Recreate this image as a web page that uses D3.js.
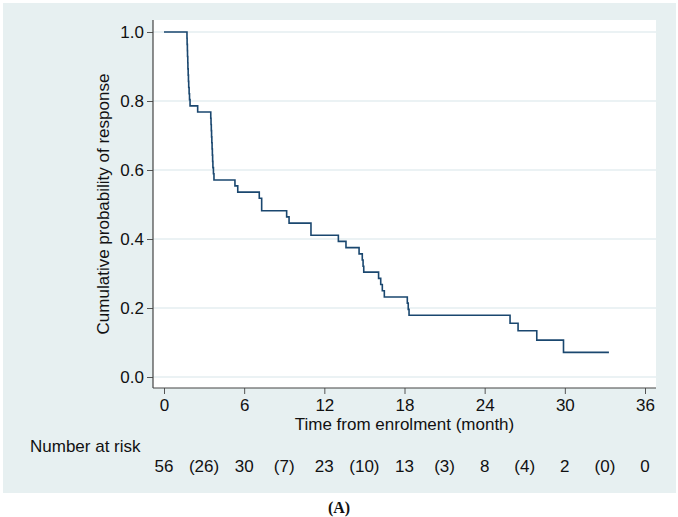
<!DOCTYPE html>
<html>
<head>
<meta charset="utf-8">
<script src="https://cdn.jsdelivr.net/npm/d3@7"></script>
<style>
    body { margin: 0; background: #ffffff; }
    text { font-family: "Liberation Sans", Arial, sans-serif; fill: #111111; }
    .tick line { stroke: #555555; }
    .caption { font-family: "Liberation Serif", "Times New Roman", serif; font-weight: bold; }
</style>
</head>
<body>
<script>
//wrap everything in a self-executing anonymous function
(function(){

    //step times (months) and survival value after each step
    var stepTimes = [0, 1.72, 1.73, 1.75, 1.76, 1.78, 1.79, 1.81, 1.83, 1.85, 1.88, 1.91, 1.95,
        2.52, 3.50, 3.52, 3.54, 3.56, 3.58, 3.60, 3.62, 3.64, 3.66, 3.70, 3.74,
        5.31, 5.52, 7.13, 7.31, 9.18, 9.36, 11.0,
        13.05, 13.62, 14.60, 14.84, 14.90, 14.95,
        16.06, 16.22, 16.34, 16.49, 18.21, 18.28, 18.34,
        25.9, 26.5, 27.9, 29.9, 33.3];
    var stepValues = [1.0, 0.982, 0.964, 0.946, 0.929, 0.911, 0.893, 0.875, 0.857, 0.839, 0.821, 0.804, 0.786,
        0.768, 0.750, 0.732, 0.714, 0.696, 0.679, 0.661, 0.643, 0.625, 0.607, 0.589, 0.571,
        0.554, 0.536, 0.518, 0.482, 0.464, 0.446, 0.411,
        0.393, 0.375, 0.357, 0.339, 0.321, 0.304,
        0.286, 0.268, 0.250, 0.232, 0.214, 0.196, 0.179,
        0.156, 0.134, 0.107, 0.0714, 0.0714];

    //axis ticks
    var xTicks = [0, 6, 12, 18, 24, 30, 36];
    var yTicks = [0, 0.2, 0.4, 0.6, 0.8, 1.0];

    //number at risk table (every 3 months)
    var riskTimes = [0, 3, 6, 9, 12, 15, 18, 21, 24, 27, 30, 33, 36];
    var riskLabels = ["56", "(26)", "30", "(7)", "23", "(10)", "13", "(3)", "8", "(4)", "2", "(0)", "0"];

    window.onload = setChart();

    function setChart(){

        var width = 678,
            height = 517,
            fontSize = "17px";

        var svg = d3.select("body")
            .append("svg")
            .attr("width", width)
            .attr("height", height);

        //graph region background
        svg.append("rect")
            .attr("x", 3)
            .attr("y", 3)
            .attr("width", 673)
            .attr("height", 490)
            .style("fill", "#e7f0f1");

        //plot region
        var plotLeft = 153, plotRight = 656, plotTop = 20, plotBottom = 388;
        svg.append("rect")
            .attr("x", plotLeft)
            .attr("y", plotTop)
            .attr("width", plotRight - plotLeft)
            .attr("height", plotBottom - plotTop)
            .style("fill", "#ffffff");

        var xScale = d3.scaleLinear()
            .domain([0, 36])
            .range([164, 645]);

        var yScale = d3.scaleLinear()
            .domain([0, 1])
            .range([377, 32]);

        //grid lines
        svg.selectAll(".grid")
            .data(yTicks)
            .enter()
            .append("line")
            .attr("class", "grid")
            .attr("x1", plotLeft)
            .attr("x2", plotRight)
            .attr("y1", function(d){ return yScale(d); })
            .attr("y2", function(d){ return yScale(d); })
            .style("stroke", "#e4eef0")
            .style("stroke-width", 1.5);

        //survival curve
        var line = d3.line()
            .x(function(d){ return xScale(d[0]); })
            .y(function(d){ return yScale(d[1]); })
            .curve(d3.curveStepAfter);

        var points = stepTimes.map(function(t, i){ return [t, stepValues[i]]; });

        svg.append("path")
            .datum(points)
            .attr("d", line)
            .style("fill", "none")
            .style("stroke", "#1a476f")
            .style("stroke-width", 1.6);

        //y axis
        var yAxis = d3.axisLeft(yScale)
            .tickValues(yTicks)
            .tickFormat(d3.format(".1f"))
            .tickSize(6)
            .tickPadding(3);

        var yg = svg.append("g")
            .attr("transform", "translate(" + plotLeft + ",0)")
            .call(yAxis);
        yg.select(".domain").remove();
        yg.selectAll("text").style("font-size", fontSize);

        svg.append("line")
            .attr("x1", plotLeft)
            .attr("x2", plotLeft)
            .attr("y1", plotTop)
            .attr("y2", plotBottom)
            .style("stroke", "#444444")
            .style("stroke-width", 1.2);

        //x axis
        var xAxis = d3.axisBottom(xScale)
            .tickValues(xTicks)
            .tickSize(6)
            .tickPadding(5);

        var xg = svg.append("g")
            .attr("transform", "translate(0," + plotBottom + ")")
            .call(xAxis);
        xg.select(".domain").remove();
        xg.selectAll("text").style("font-size", fontSize);

        svg.append("line")
            .attr("x1", plotLeft)
            .attr("x2", plotRight)
            .attr("y1", plotBottom)
            .attr("y2", plotBottom)
            .style("stroke", "#444444")
            .style("stroke-width", 1.2);

        //axis titles
        svg.append("text")
            .attr("x", xScale(18))
            .attr("y", 430)
            .attr("text-anchor", "middle")
            .style("font-size", fontSize)
            .text("Time from enrolment (month)");

        svg.append("text")
            .attr("transform", "translate(109,204) rotate(-90)")
            .attr("text-anchor", "middle")
            .style("font-size", fontSize)
            .text("Cumulative probability of response");

        //number at risk
        svg.append("text")
            .attr("x", 30)
            .attr("y", 452)
            .style("font-size", fontSize)
            .text("Number at risk");

        svg.selectAll(".risk")
            .data(riskTimes)
            .enter()
            .append("text")
            .attr("class", "risk")
            .attr("x", function(d){ return xScale(d); })
            .attr("y", 472)
            .attr("text-anchor", "middle")
            .style("font-size", fontSize)
            .text(function(d, i){ return riskLabels[i]; });

        //panel caption
        svg.append("text")
            .attr("class", "caption")
            .attr("x", 339)
            .attr("y", 513)
            .attr("text-anchor", "middle")
            .style("font-size", "16px")
            .text("(A)");
    };
})();
</script>
</body>
</html>
